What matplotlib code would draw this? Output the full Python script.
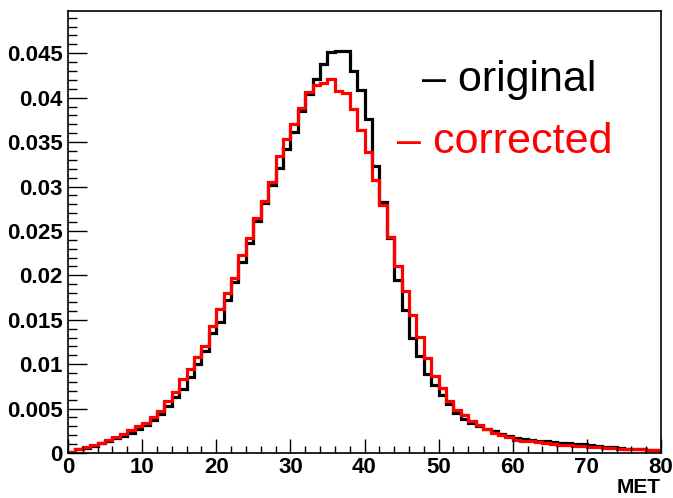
import numpy as np
import matplotlib
matplotlib.use("Agg")
import matplotlib.pyplot as plt
from matplotlib.ticker import MultipleLocator

bin_edges = np.arange(0, 81, 1)

original = [
    0.00012, 0.0004, 0.0006, 0.0008, 0.0011, 0.0014, 0.0017, 0.0019, 0.0023, 0.0027,
    0.0032, 0.0037, 0.0044, 0.0053, 0.0063, 0.0072, 0.0085, 0.0100, 0.0115, 0.0135,
    0.0148, 0.0172, 0.0193, 0.0215, 0.0236, 0.0261, 0.0281, 0.0302, 0.0321, 0.0342,
    0.0361, 0.0385, 0.0404, 0.0421, 0.0438, 0.0451, 0.0453, 0.0453, 0.0430, 0.0409,
    0.0376, 0.0323, 0.0283, 0.0242, 0.0195, 0.0161, 0.0130, 0.0109, 0.0089, 0.0076,
    0.0065, 0.0055, 0.0045, 0.0038, 0.0034, 0.0030, 0.0027, 0.0025, 0.0021, 0.0019,
    0.0017, 0.0016, 0.0015, 0.0014, 0.0013, 0.0012, 0.0011, 0.0011, 0.0010, 0.0010,
    0.0009, 0.0008, 0.0007, 0.0007, 0.0006, 0.0005, 0.0005, 0.0004, 0.0003, 0.0003,
]

corrected = [
    0.00015, 0.00045, 0.00065, 0.00085, 0.00115, 0.00145, 0.00175, 0.0021, 0.0026, 0.0030,
    0.0034, 0.0040, 0.0047, 0.0058, 0.0069, 0.0083, 0.0094, 0.0108, 0.0121, 0.0143,
    0.0162, 0.0180, 0.0197, 0.0223, 0.0242, 0.0265, 0.0284, 0.0305, 0.0334, 0.0354,
    0.0370, 0.0388, 0.0406, 0.0414, 0.0417, 0.0421, 0.0408, 0.0405, 0.0387, 0.0364,
    0.0339, 0.0307, 0.0279, 0.0243, 0.0211, 0.0182, 0.0155, 0.0131, 0.0107, 0.0087,
    0.0073, 0.0058, 0.0048, 0.0043, 0.0036, 0.0032, 0.0027, 0.0023, 0.0020, 0.0018,
    0.0015, 0.0014, 0.0013, 0.0012, 0.0011, 0.0010, 0.0009, 0.0009, 0.0008, 0.0008,
    0.0007, 0.0007, 0.0006, 0.0006, 0.0005, 0.0005, 0.0004, 0.0004, 0.0003, 0.0003,
]

series_labels = ["original", "corrected"]
x_label = "MET"

plt.rcParams['font.family'] = ['Liberation Sans', 'DejaVu Sans']

fig = plt.figure(figsize=(6.73, 4.98), dpi=100)
ax = fig.add_axes([68/673, 1 - 453/498, (661-68)/673, (453-11.5)/498])

ax.stairs(original, bin_edges, baseline=0, color='black', lw=2.3)
ax.stairs(corrected, bin_edges, baseline=0, color='#ff0000', lw=2.3)

ax.set_xlim(0, 80)
ax.set_ylim(0, 0.0497)

ax.xaxis.set_major_locator(MultipleLocator(10))
ax.xaxis.set_minor_locator(MultipleLocator(2))
ax.yaxis.set_major_locator(MultipleLocator(0.005))
ax.yaxis.set_minor_locator(MultipleLocator(0.001))
ax.yaxis.set_major_formatter(plt.FuncFormatter(lambda v, p: ('%g' % round(v, 4))))

ax.tick_params(axis='y', which='major', direction='in', length=13.5, width=1.0,
               left=True, right=False, labelsize=16, pad=4)
ax.tick_params(axis='y', which='minor', direction='in', length=6.5, width=1.0,
               left=True, right=False)
ax.tick_params(axis='x', which='major', direction='in', length=10, width=1.0,
               bottom=True, top=False, labelsize=16, pad=3)
ax.tick_params(axis='x', which='minor', direction='in', length=5, width=1.0,
               bottom=True, top=False)
for lab in ax.get_xticklabels() + ax.get_yticklabels():
    lab.set_fontweight('bold')
    lab.set_color('#000000')

for s in ax.spines.values():
    s.set_linewidth(1.2)

ax.set_xlabel(x_label, fontsize=15, fontweight='bold', loc='right', labelpad=0)

ax.text((422-68)/593, 1 - (80-11.5)/441.5, "\u2013 " + series_labels[0],
        transform=ax.transAxes, fontsize=31, color='black', ha='left', va='center')
ax.text((397-68)/593, 1 - (142-11.5)/441.5, "\u2013 " + series_labels[1],
        transform=ax.transAxes, fontsize=31, color='#ff0000', ha='left', va='center')

fig.savefig("out.png", dpi=100)
